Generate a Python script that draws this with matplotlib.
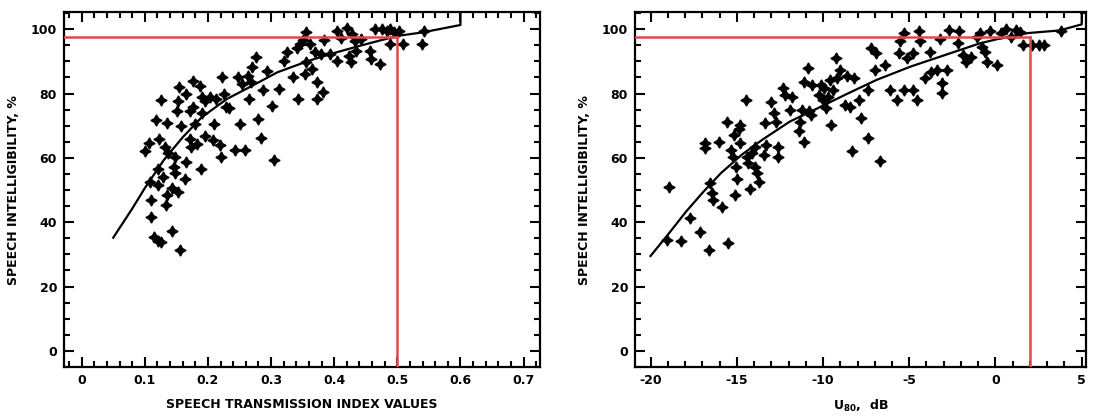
import matplotlib.pyplot as plt
from matplotlib.ticker import MultipleLocator, FuncFormatter

plt.rcParams['axes.unicode_minus'] = False
plt.rcParams['font.family'] = 'DejaVu Sans'

# --- left panel: speech intelligibility vs STI ---
sti_x = [0.101, 0.107, 0.110, 0.110, 0.108, 0.114, 0.121, 0.125, 0.118, 0.122,
         0.126, 0.121, 0.129, 0.132, 0.135, 0.135, 0.133, 0.121, 0.137, 0.143,
         0.148, 0.147, 0.148, 0.143, 0.152, 0.151, 0.152, 0.154, 0.156, 0.157,
         0.164, 0.165, 0.166, 0.171, 0.172, 0.173, 0.177, 0.176, 0.179, 0.182,
         0.187, 0.189, 0.190, 0.190, 0.196, 0.196, 0.204, 0.210, 0.208, 0.212,
         0.219, 0.221, 0.223, 0.226, 0.229, 0.233, 0.243, 0.248, 0.250, 0.254,
         0.258, 0.263, 0.265, 0.268, 0.270, 0.276, 0.280, 0.284, 0.287, 0.293,
         0.301, 0.304, 0.312, 0.320, 0.326, 0.334, 0.341, 0.343, 0.346, 0.351,
         0.355, 0.354, 0.356, 0.362, 0.365, 0.370, 0.372, 0.372, 0.379, 0.383,
         0.384, 0.393, 0.404, 0.405, 0.411, 0.420, 0.423, 0.426, 0.428, 0.433,
         0.435, 0.442, 0.456, 0.459, 0.464, 0.473, 0.476, 0.484, 0.489, 0.495,
         0.503, 0.488, 0.509, 0.542, 0.539]
sti_y = [62.2, 64.5, 47.0, 41.5, 52.5, 35.3, 34.3, 33.7, 71.8, 65.9,
         78.0, 56.5, 54.2, 63.3, 70.7, 48.4, 45.3, 51.6, 61.4, 37.2,
         60.3, 57.2, 55.2, 50.7, 49.5, 74.7, 77.8, 82.1, 31.3, 70.0,
         53.4, 79.8, 58.8, 74.7, 65.9, 63.3, 83.8, 75.9, 70.5, 64.3,
         82.4, 56.6, 78.8, 74.1, 66.9, 77.8, 78.8, 70.5, 65.7, 78.3,
         64.1, 60.3, 85.0, 79.8, 75.9, 75.5, 62.4, 85.0, 70.5, 82.9,
         62.4, 85.5, 78.3, 83.5, 88.1, 91.2, 72.1, 66.3, 81.1, 87.1,
         76.2, 59.3, 81.4, 90.2, 92.8, 85.2, 94.3, 78.3, 95.3, 96.6,
         99.0, 86.2, 89.7, 95.3, 87.6, 92.8, 83.5, 78.3, 92.2, 80.4,
         96.6, 92.2, 90.2, 99.5, 97.4, 100.5, 91.7, 89.7, 98.4, 96.4,
         93.3, 96.9, 93.3, 90.7, 100.0, 89.3, 100.0, 99.5, 100.0, 99.0,
         99.5, 95.3, 95.3, 99.3, 95.3]
sti_curve_x = [0.05, 0.08, 0.10, 0.13, 0.16, 0.19, 0.23, 0.27, 0.31, 0.36,
               0.40, 0.44, 0.50, 0.54, 0.60, 0.60]
sti_curve_y = [35.2, 44.2, 50.6, 59.3, 66.4, 72.6, 78.3, 82.4, 86.6, 90.2,
               92.6, 94.8, 97.9, 99.0, 101.3, 106.0]

# --- right panel: speech intelligibility vs U80 ---
u80_x = [-18.94, -19.04, -18.24, -17.74, -17.13, -16.83, -16.83, -16.63, -16.53, -16.43,
         -16.37, -16.03, -15.83, -15.57, -15.53, -15.33, -15.23, -15.17, -15.13, -15.03,
         -14.97, -14.89, -14.83, -14.81, -14.49, -14.43, -14.33, -14.23, -14.13, -13.97,
         -13.93, -13.83, -13.73, -13.43, -13.37, -13.29, -13.03, -12.83, -12.73, -12.63,
         -12.63, -12.32, -12.22, -11.92, -11.82, -11.42, -11.32, -11.22, -11.12, -11.12,
         -10.88, -10.82, -10.72, -10.62, -10.22, -10.12, -10.02, -9.92, -9.82, -9.72,
         -9.62, -9.52, -9.42, -9.22, -9.16, -9.02, -8.72, -8.62, -8.42, -8.32,
         -8.22, -7.92, -7.82, -7.41, -7.41, -7.21, -7.01, -6.91, -6.67, -6.41,
         -6.11, -5.71, -5.61, -5.51, -5.31, -5.31, -5.11, -4.81, -4.81, -4.55,
         -4.41, -4.35, -4.11, -3.81, -3.71, -3.41, -3.21, -3.11, -3.11, -2.81,
         -2.71, -2.20, -2.10, -1.90, -1.70, -1.40, -1.10, -0.90, -0.80, -0.60,
         -0.50, -0.30, 0.10, 0.30, 0.60, 0.90, 1.20, 1.40, 1.60, 2.10,
         2.51, 2.81, 3.81]
u80_y = [51.0, 34.6, 34.2, 41.2, 37.0, 63.0, 64.5, 31.3, 52.1, 49.2,
         46.9, 65.0, 44.8, 71.3, 33.6, 62.4, 60.4, 67.1, 48.4, 57.3,
         53.3, 68.9, 70.2, 64.5, 78.0, 60.4, 58.3, 50.2, 61.4, 63.5,
         57.3, 55.2, 52.6, 60.9, 70.7, 64.0, 77.5, 73.9, 71.3, 63.5,
         60.4, 81.6, 79.6, 74.9, 79.0, 68.2, 71.3, 74.9, 65.0, 83.7,
         87.9, 74.5, 73.3, 82.7, 79.6, 82.7, 78.0, 81.6, 75.4, 79.0,
         84.2, 70.2, 81.1, 91.0, 84.8, 87.3, 76.5, 85.3, 75.9, 62.2,
         84.8, 78.0, 72.3, 66.1, 81.1, 94.1, 87.3, 92.5, 59.1, 88.9,
         81.1, 78.0, 92.5, 96.2, 98.8, 81.1, 91.0, 81.1, 92.5, 78.0,
         99.3, 96.2, 84.8, 93.0, 86.8, 87.3, 96.9, 83.2, 80.1, 87.3,
         99.8, 95.6, 99.3, 92.0, 89.9, 91.5, 97.7, 98.8, 94.6, 93.0,
         89.9, 99.3, 88.9, 98.8, 100.0, 97.7, 99.8, 99.0, 95.1, 95.1,
         95.1, 95.1, 99.3]
u80_curve_x = [-20.0, -18.94, -17.94, -16.93, -15.93, -14.73, -13.53, -11.92, -10.32, -8.72,
               -6.91, -4.91, -2.91, -0.90, 0.10, 1.90, 3.71, 5.0, 5.0]
u80_curve_y = [29.5, 36.5, 43.3, 49.5, 55.2, 60.9, 65.6, 71.3, 75.4, 79.6,
               84.2, 88.4, 92.0, 95.6, 96.9, 98.8, 99.6, 101.5, 106.0]

target_y = 97.6
sti_target = 0.5
u80_target = 2.0

red = '#dc4b4b'
lab_font = dict(fontsize=9, fontweight='bold')

fig = plt.figure(figsize=(10.96, 4.18), dpi=100)
ax1 = fig.add_axes([0.0584, 0.122, 0.4343, 0.849])
ax2 = fig.add_axes([0.5794, 0.122, 0.4115, 0.849])


def style(ax, xmajor, xminor):
    ax.set_ylim(-5, 105.3)
    ax.xaxis.set_major_locator(MultipleLocator(xmajor))
    ax.xaxis.set_minor_locator(MultipleLocator(xminor))
    ax.yaxis.set_major_locator(MultipleLocator(20))
    ax.yaxis.set_minor_locator(MultipleLocator(5))
    ax.tick_params(which='both', direction='in', top=True, right=True,
                   width=1.5, labelsize=9, pad=5)
    ax.tick_params(which='major', length=7)
    ax.tick_params(which='minor', length=4)
    for lbl in ax.get_xticklabels() + ax.get_yticklabels():
        lbl.set_fontweight('bold')
    for sp in ax.spines.values():
        sp.set_linewidth(1.6)
    ax.set_ylabel('SPEECH INTELLIGIBILITY, %', labelpad=8, **lab_font)


# left
ax1.set_xlim(-0.028, 0.726)
ax1.plot(sti_curve_x, sti_curve_y, color='black', lw=1.6, zorder=3)
ax1.plot(sti_x, sti_y, ls='none', marker=(4, 1, 0), ms=8, color='black', zorder=4)
ax1.plot([-0.028, sti_target], [target_y, target_y], color=red, lw=1.8, zorder=5)
ax1.plot([sti_target, sti_target], [-5, target_y], color=red, lw=1.8, zorder=5)
ax1.xaxis.set_major_formatter(FuncFormatter(lambda v, p: '0' if abs(v) < 1e-9 else f'{v:.1f}'))
style(ax1, 0.1, 0.02)
ax1.set_xlabel('SPEECH TRANSMISSION INDEX VALUES', labelpad=8, **lab_font)

# right
ax2.set_xlim(-20.9, 5.25)
ax2.plot(u80_curve_x, u80_curve_y, color='black', lw=1.6, zorder=3)
ax2.plot(u80_x, u80_y, ls='none', marker=(4, 1, 0), ms=8, color='black', zorder=4)
ax2.plot([-20.9, u80_target], [target_y, target_y], color=red, lw=1.8, zorder=5)
ax2.plot([u80_target, u80_target], [-5, target_y], color=red, lw=1.8, zorder=5)
ax2.xaxis.set_major_formatter(FuncFormatter(lambda v, p: f'{v:.0f}'))
style(ax2, 5, 1)
ax2.set_xlabel(r'U$_{\mathbf{80}}$,  dB', labelpad=8, **lab_font)

fig.savefig('out.png', dpi=100)
